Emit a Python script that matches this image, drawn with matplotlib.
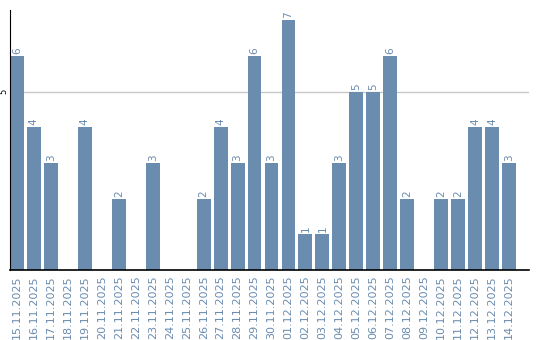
import matplotlib
matplotlib.use("Agg")
import matplotlib.pyplot as plt

# Daily counts
dates = [
    "15.11.2025", "16.11.2025", "17.11.2025", "18.11.2025", "19.11.2025",
    "20.11.2025", "21.11.2025", "22.11.2025", "23.11.2025", "24.11.2025",
    "25.11.2025", "26.11.2025", "27.11.2025", "28.11.2025", "29.11.2025",
    "30.11.2025", "01.12.2025", "02.12.2025", "03.12.2025", "04.12.2025",
    "05.12.2025", "06.12.2025", "07.12.2025", "08.12.2025", "09.12.2025",
    "10.12.2025", "11.12.2025", "12.12.2025", "13.12.2025", "14.12.2025",
]
counts = [6, 4, 3, 0, 4, 0, 2, 0, 3, 0, 0, 2, 4, 3, 6, 3, 7, 1, 1, 3, 5, 5, 6, 2, 0, 2, 2, 4, 4, 3]

bar_color = "#6a8caf"

fig = plt.figure(figsize=(5.4, 3.4), dpi=100)
ax = fig.add_axes([0.0185, 0.206, 0.962, 0.764])

x = list(range(len(dates)))
ax.bar(x, counts, width=0.82, color=bar_color, zorder=2)

# value labels above non-empty bars
for xi, v in zip(x, counts):
    if v > 0:
        ax.text(xi, v + 0.05, str(v), rotation=90, ha="center", va="bottom",
                fontsize=7.5, color=bar_color)

ax.set_xlim(-0.41, 30.2)
ax.set_ylim(0, 7.28)
ax.set_xticks(x)
ax.set_xticklabels(dates, rotation=90, fontsize=8, color=bar_color)
ax.set_yticks([5])
ax.set_yticklabels(["5"], rotation=90, fontsize=6, va="center")
ax.tick_params(axis="x", length=0, pad=4)
ax.tick_params(axis="y", length=0, pad=1)
ax.yaxis.grid(True, color="#c8c8c8", linewidth=1, zorder=0)

for side in ["top", "right"]:
    ax.spines[side].set_visible(False)
ax.spines["left"].set_color("black")
ax.spines["bottom"].set_color("black")
ax.spines["bottom"].set_linewidth(1.2)

fig.savefig("out.png", dpi=100)
